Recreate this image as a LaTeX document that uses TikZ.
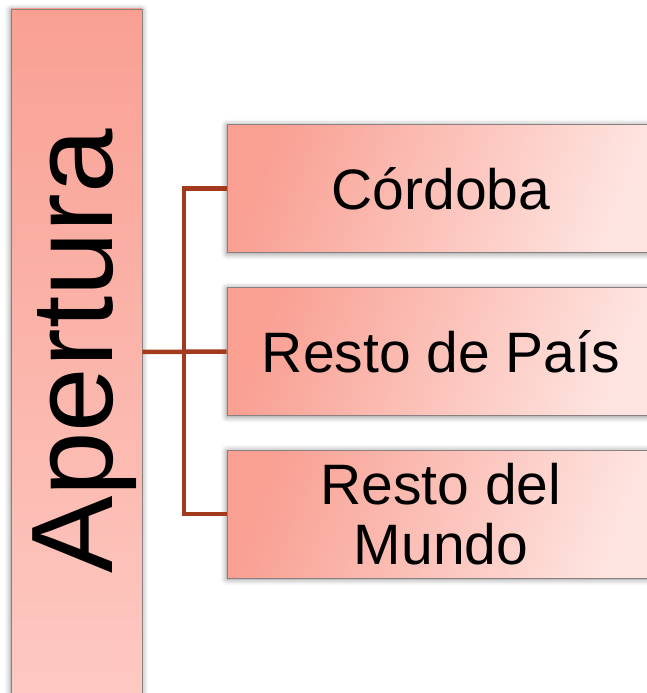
\documentclass[tikz,border=0pt]{standalone}
\usepackage{fontspec}
\setmainfont{Liberation Sans}
\usetikzlibrary{shadows.blur}
\definecolor{salmon}{HTML}{F9A093}
\definecolor{salmonpale}{HTML}{FDC9C2}
\definecolor{blush}{HTML}{FEE4E0}
\definecolor{rust}{HTML}{A33A1E}
\definecolor{rim}{HTML}{8A8080}
\tikzset{
  softshadow/.style={blur shadow={shadow xshift=0pt, shadow yshift=-1pt, shadow blur radius=6pt, shadow opacity=50}},
  tallbox/.style={rectangle, draw=rim, line width=0.8pt, top color=salmon, bottom color=salmonpale, minimum width=131pt, minimum height=686pt, softshadow},
  itembox/.style={rectangle, draw=rim, line width=0.8pt, top color=salmon, bottom color=blush, shading angle=70, minimum width=428pt, minimum height=128pt, inner sep=0pt, align=center, font=\fontsize{57}{60}\selectfont, softshadow},
  link/.style={draw=rust, line width=4.5pt}
}

\begin{document}
\begin{tikzpicture}[x=1pt, y=-1pt]
  \useasboundingbox (0,0) rectangle (646,693);
  \node[tallbox] (apertura) at (76.5,352) {};
  \node[rotate=90, anchor=base, font=\fontsize{116}{116}\selectfont] (titulo) at (112,351.5) {Apertura};
  \node[itembox] (cordoba) at (441,188.5) {Córdoba};
  \node[itembox] (pais) at (441,351.5) {Resto de País};
  \node[itembox] (mundo) at (441,514) {Resto del\\Mundo};
  \coordinate (fork) at (184,352);

  \path[link] (apertura.east) -- (pais.west);
  \path[link] (cordoba.west) -| (fork) |- (mundo.west);
\end{tikzpicture}
\end{document}
